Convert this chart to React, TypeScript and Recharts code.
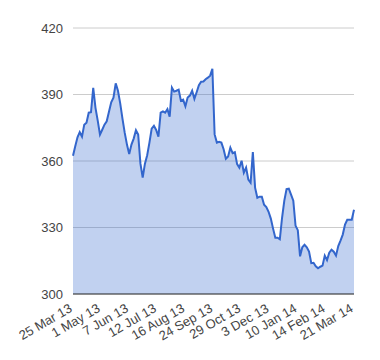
import { AreaChart, Area, XAxis, YAxis, CartesianGrid } from 'recharts'

// closing price, sampled every 2nd trading day from 25 Mar 13 to 21 Mar 14
const prices = [
  362.4, 366.7, 370.7, 373, 371, 376.4, 377.3, 381.8, 382, 393,
  384, 378.2, 371.9, 374.1, 376.4, 377.9, 382.2, 386.5, 388.6, 395,
  391.7, 386, 379.1, 372.8, 367.4, 363.1, 367.4, 370.1, 373.9, 371.9,
  358.8, 352.5, 358.8, 362.6, 368.3, 374.6, 375.9, 374, 371, 381.8,
  382.4, 381.8, 383.4, 380, 393.1, 391.3, 391.7, 392.2, 387.2, 387.7,
  384.7, 388.6, 389.5, 391.7, 388, 391, 394.2, 395.8, 395.9, 396.9,
  397.6, 398.5, 401.6, 372, 368.3, 368.7, 368.3, 365.3, 361, 362,
  366, 363.5, 364, 358.6, 357, 360.1, 354.7, 357, 351.6, 350.2,
  364, 348, 343.4, 343.9, 343.9, 340.3, 339.2, 337.1, 334, 329.5,
  325.4, 325.4, 324.7, 334.4, 342.1, 347.3, 347.5, 344.8, 342.1, 330.8,
  328.8, 317, 321.1, 322.2, 321.1, 319.1, 313.9, 314.1, 312.5, 311.6,
  312.3, 312.8, 317.3, 315.3, 318.6, 320, 319.1, 317.3, 321.6, 324.1,
  326.8, 331.3, 333.5, 333.5, 333.5, 338
]

const dateLabels = [
  '25 Mar 13', '1 May 13', '7 Jun 13', '12 Jul 13', '16 Aug 13', '24 Sep 13',
  '29 Oct 13', '3 Dec 13', '10 Jan 14', '14 Feb 14', '21 Mar 14'
]
const yTicks = [300, 330, 360, 390, 420]

const data = prices.map((p, k) => ({ day: k * 2, price: p }))
const xTicks = dateLabels.map((_, i) => i * 25)

const font = '"Liberation Sans", Arial, sans-serif'

function SlantTick(props: any) {
  const { x, y, payload } = props
  const ty = y + 9
  return (
    <text
      x={x}
      y={ty}
      textAnchor="end"
      fontSize={13}
      fontFamily={font}
      fill="#444"
      transform={`rotate(-30 ${x} ${ty})`}
    >
      {dateLabels[Math.round(payload.value / 25)]}
    </text>
  )
}

export default function App() {
  return (
    <AreaChart
      width={372}
      height={344}
      data={data}
      margin={{ top: 20, right: 26, bottom: 0, left: 0 }}
    >
      <CartesianGrid horizontal vertical={false} stroke="#ccc" />
      <XAxis
        type="number"
        dataKey="day"
        domain={[0, 250]}
        ticks={xTicks}
        interval={0}
        tick={<SlantTick />}
        tickLine={false}
        axisLine={{ stroke: '#333' }}
        height={58}
      />
      <YAxis
        type="number"
        domain={[300, 420]}
        ticks={yTicks}
        width={65}
        axisLine={false}
        tickLine={false}
        tickMargin={4}
        tick={{ fontSize: 13, fontFamily: font, fill: '#444' }}
      />
      <Area
        type="linear"
        dataKey="price"
        stroke="#3366cc"
        strokeWidth={2}
        fill="#3366cc"
        fillOpacity={0.3}
        isAnimationActive={false}
        dot={false}
        activeDot={false}
      />
    </AreaChart>
  )
}
